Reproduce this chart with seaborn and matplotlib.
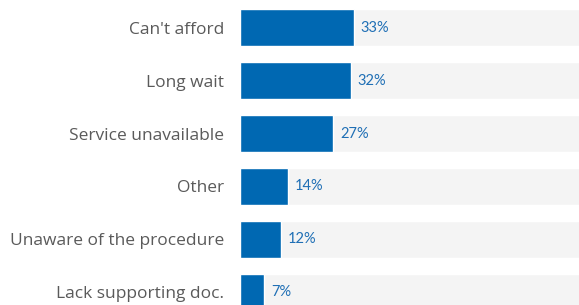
import matplotlib.pyplot as plt
import seaborn as sns
import pandas as pd

# data
reasons = ["Can't afford", "Long wait", "Service unavailable", "Other",
           "Unaware of the procedure", "Lack supporting doc."]
shares = [33, 32, 27, 14, 12, 7]
full = [100] * len(reasons)

df = pd.DataFrame({"reason": reasons, "share": shares, "full": full})

sns.set_style("white")
plt.rcParams['font.family'] = ['Lato', 'DejaVu Sans']

fig = plt.figure(figsize=(5.79, 3.05), dpi=100)
ax = fig.add_axes([240 / 579, 0, 339 / 579, 1])

# gray track bars
sns.barplot(data=df, x="full", y="reason", orient="h", color="#f4f4f4",
            width=0.7, ax=ax, saturation=1)
# blue bars
sns.barplot(data=df, x="share", y="reason", orient="h", color="#0068b2",
            width=0.7, ax=ax, saturation=1)

for i, v in enumerate(shares):
    ax.text(v + 1.9, i, f"{v}%", va="center", ha="left",
            fontsize=10.5, color="#1f6fb5")

ax.set_xlim(0, 98.1)
ax.set_ylim(5.236, -0.519)
ax.set_xlabel("")
ax.set_ylabel("")
ax.set_xticks([])
ax.tick_params(axis="y", length=0, pad=11.5, labelcolor="#5a5a5a")
for lbl in ax.get_yticklabels():
    lbl.set_family(['Open Sans', 'DejaVu Sans'])
    lbl.set_fontsize(12.5)
sns.despine(ax=ax, left=True, bottom=True)

plt.savefig("out.png", dpi=100)
